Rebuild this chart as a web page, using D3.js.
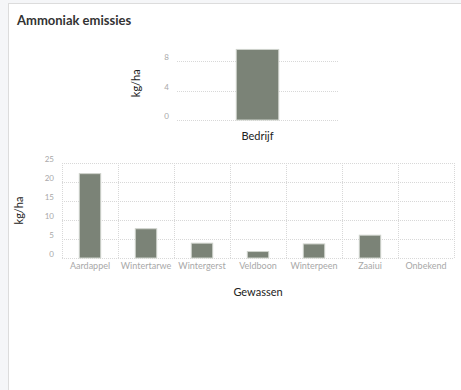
<!DOCTYPE html>
<html>
<head>
<meta charset="utf-8">
<script src="https://cdn.jsdelivr.net/npm/d3@7"></script>
<style>
  body { margin: 0; background: #f5f6f8; font-family: Lato, "Open Sans", sans-serif; }
  svg { display: block; }
  .tick text { fill: #a8a8a8; font-size: 8px; font-family: Lato, sans-serif; }
  .grid line { stroke: #d8d8d8; stroke-dasharray: 1,1; }
</style>
</head>
<body>
<svg id="chart" width="461" height="390"></svg>
<script>
// farm total
var farmCategories = ["Bedrijf"];
var farmValues = [9.6];
var farmTicks = [0, 4, 8];

// per crop
var cropCategories = ["Aardappel", "Wintertarwe", "Wintergerst", "Veldboon", "Winterpeen", "Zaaiui", "Onbekend"];
var cropValues = [22.2, 7.7, 3.9, 1.7, 3.7, 6.0, 0];
var cropTicks = [0, 5, 10, 15, 20, 25];

var barFill = "#7b8377";
var barStroke = "#cfd3cc";

var svg = d3.select("#chart");

// panel
svg.append("rect").attr("x", 8.5).attr("y", 3.5).attr("width", 460).attr("height", 400)
   .attr("fill", "#fff").attr("stroke", "#dcdcdc");

svg.append("text").attr("x", 17).attr("y", 25)
   .attr("font-size", "13px").attr("font-weight", "bold").attr("fill", "#333")
   .text("Ammoniak emissies");

// draws one bar chart into the given box
function barChart(cats, vals, ticks, yMax, box, opts) {
  var x = d3.scaleBand().domain(cats).range([box.left, box.right]).paddingInner(opts.padding).paddingOuter(opts.padding / 2);
  var xb = d3.scaleBand().domain(cats).range([box.left, box.right]);
  var y = d3.scaleLinear().domain([0, yMax]).range([box.bottom, box.top]);
  var g = svg.append("g");

  // horizontal grid
  g.append("g").attr("class", "grid")
    .selectAll("line").data(ticks).enter().append("line")
      .attr("x1", box.left).attr("x2", box.right)
      .attr("y1", function(d) { return Math.round(y(d)) + 0.5; })
      .attr("y2", function(d) { return Math.round(y(d)) + 0.5; });

  // vertical grid at the category boundaries
  if(opts.vgrid) {
    var bounds = cats.map(function(c) { return xb(c); }).concat([box.right]);
    g.append("g").attr("class", "grid")
      .selectAll("line").data(bounds).enter().append("line")
        .attr("x1", function(d) { return Math.round(d) + 0.5; })
        .attr("x2", function(d) { return Math.round(d) + 0.5; })
        .attr("y1", y(yMax)).attr("y2", box.bottom);
  }

  g.selectAll("rect.bar").data(cats).enter().append("rect")
    .attr("class", "bar")
    .attr("x", function(d) { return x(d) + 0.5; })
    .attr("width", x.bandwidth() - 1)
    .attr("y", function(d, i) { return y(vals[i]); })
    .attr("height", function(d, i) { return Math.max(0, box.bottom - y(vals[i])); })
    .attr("fill", barFill).attr("stroke", barStroke).attr("stroke-width", 1)
    .style("display", function(d, i) { return vals[i] > 0 ? null : "none"; });

  // axes (labels only)
  var ya = g.append("g").attr("transform", "translate(" + (box.left - 8) + ",-4)")
    .call(d3.axisLeft(y).tickValues(ticks).tickSize(0).tickPadding(0));
  ya.select(".domain").remove();

  var xa = g.append("g").attr("transform", "translate(0," + (box.bottom + 5) + ")")
    .call(d3.axisBottom(xb).tickSize(0).tickPadding(0));
  xa.select(".domain").remove();
  xa.selectAll("text").style("font-size", opts.xTickFont);
  if(opts.xTickDark) {
    xa.selectAll("text").style("fill", "#222");
    xa.attr("transform", "translate(0," + (box.bottom + 12) + ")");
  }

  svg.append("text")
    .attr("transform", "translate(" + opts.yLabelX + "," + ((box.top + box.bottom) / 2) + ") rotate(-90)")
    .attr("text-anchor", "middle").attr("font-size", "11px").attr("fill", "#222")
    .text("kg/ha");

  if(opts.xTitle) {
    svg.append("text").attr("x", (box.left + box.right) / 2).attr("y", box.bottom + 38)
      .attr("text-anchor", "middle").attr("font-size", "11px").attr("fill", "#222")
      .text(opts.xTitle);
  }
}

barChart(farmCategories, farmValues, farmTicks, 10,
  {left: 177, right: 338, top: 46.5, bottom: 120},
  {padding: 0.73, vgrid: false, yLabelX: 140, xTickFont: "11px", xTickDark: true});

barChart(cropCategories, cropValues, cropTicks, 25,
  {left: 62, right: 454, top: 163, bottom: 258},
  {padding: 0.6, vgrid: true, yLabelX: 23, xTitle: "Gewassen", xTickFont: "9px"});
</script>
</body>
</html>
